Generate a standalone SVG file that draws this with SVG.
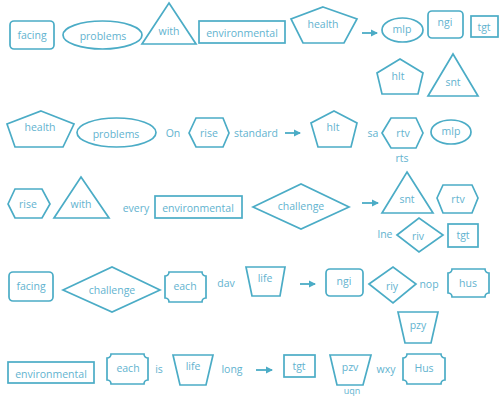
<svg xmlns="http://www.w3.org/2000/svg" width="500" height="396" viewBox="0 0 500 396">
<defs>
<style>
.s{fill:#fff;stroke:#4bacc6;stroke-width:1.7;stroke-linejoin:miter}
.t{font-family:"Open Sans","Liberation Sans",sans-serif;font-size:10.5px;fill:#62b3cf;text-anchor:middle;dominant-baseline:central}
.c{stroke:#4bacc6;stroke-width:1.8;fill:none}
</style>
<marker id="ah" viewBox="0 0 6 6" refX="5" refY="3" markerWidth="4" markerHeight="4" orient="auto"><path d="M0,0L6,3L0,6z" fill="#4bacc6"/></marker>
</defs>
<rect width="500" height="396" fill="#fff"/>
<g id="connectors">
<line class="c" x1="362" y1="33" x2="377" y2="33" marker-end="url(#ah)"/>
<line class="c" x1="285" y1="133" x2="300" y2="133" marker-end="url(#ah)"/>
<line class="c" x1="362" y1="203" x2="378" y2="203" marker-end="url(#ah)"/>
<line class="c" x1="300" y1="284" x2="315" y2="284" marker-end="url(#ah)"/>
<line class="c" x1="256" y1="370" x2="272" y2="370" marker-end="url(#ah)"/>
</g>
<!-- Row 1 -->
<g id="n-facing1"><rect class="s" x="10" y="21" width="44" height="28" rx="4"/><text class="t" x="32" y="35">facing</text></g>
<g id="n-problems1"><ellipse class="s" cx="102.5" cy="35" rx="39.5" ry="14"/><text class="t" x="103" y="36">problems</text></g>
<g id="n-with1"><polygon class="s" points="169,3 196,44 142,44"/><text class="t" x="169" y="31">with</text></g>
<g id="n-env1"><rect class="s" x="199" y="21" width="86" height="22"/><text class="t" x="242" y="33">environmental</text></g>
<g id="n-health1"><polygon class="s" points="323,7 357,19 344,43 303,43 291,19"/><text class="t" x="323" y="24">health</text></g>
<g id="n-mlp1"><ellipse class="s" cx="402.5" cy="30" rx="20.5" ry="12"/><text class="t" x="402" y="29">mlp</text></g>
<g id="n-ngi1"><rect class="s" x="428" y="11" width="35" height="27" rx="4"/><text class="t" x="445" y="22">ngi</text></g>
<g id="n-tgt1"><rect class="s" x="471" y="16" width="27" height="21"/><text class="t" x="484" y="27">tgt</text></g>
<g id="n-hlt1"><polygon class="s" points="400,59 423,73 418,94 382,94 377,73"/><text class="t" x="398" y="76">hlt</text></g>
<g id="n-snt1"><polygon class="s" points="453,54 478,96 428,96"/><text class="t" x="453" y="82">snt</text></g>
<!-- Row 2 -->
<g id="n-health2"><polygon class="s" points="41,111 74,124 63,147 15,147 7,124"/><text class="t" x="40" y="127">health</text></g>
<g id="n-problems2"><ellipse class="s" cx="116.5" cy="132.5" rx="39.5" ry="14.5"/><text class="t" x="116" y="134">problems</text></g>
<text class="t" x="173" y="133">On</text>
<g id="n-rise2"><polygon class="s" points="189,133 196,118 223,118 229,133 223,147 196,147"/><text class="t" x="209" y="133">rise</text></g>
<text class="t" x="256" y="133">standard</text>
<g id="n-hlt2"><polygon class="s" points="334,111 357,123 351,147 318,147 311,123"/><text class="t" x="333" y="127">hlt</text></g>
<text class="t" x="373" y="133">sa</text>
<g id="n-rtv2"><polygon class="s" points="382,133 391,118 416,118 423,133 416,148 391,148"/><text class="t" x="403" y="133">rtv</text></g>
<text class="t" x="402" y="158">rts</text>
<g id="n-mlp2"><ellipse class="s" cx="451" cy="132" rx="20" ry="12"/><text class="t" x="451" y="131">mlp</text></g>
<!-- Row 3 -->
<g id="n-rise3"><polygon class="s" points="8,204 15,189 42,189 50,204 42,218 15,218"/><text class="t" x="28" y="204">rise</text></g>
<g id="n-with3"><polygon class="s" points="81,177 109,218 54,218"/><text class="t" x="81" y="204">with</text></g>
<text class="t" x="136" y="208">every</text>
<g id="n-env3"><rect class="s" x="155" y="196" width="87" height="22"/><text class="t" x="198" y="208">environmental</text></g>
<g id="n-challenge3"><polygon class="s" points="253,207 301,184 349,207 301,229"/><text class="t" x="301" y="206">challenge</text></g>
<g id="n-snt3"><polygon class="s" points="407,172 433,213 382,213"/><text class="t" x="407" y="199">snt</text></g>
<g id="n-rtv3"><polygon class="s" points="437,198 443,185 472,185 478,198 472,213 443,213"/><text class="t" x="458" y="199">rtv</text></g>
<text class="t" x="385" y="234">lne</text>
<g id="n-riv3"><polygon class="s" points="397,235 419,218 443,235 419,252"/><text class="t" x="418" y="236">riv</text></g>
<g id="n-tgt3"><rect class="s" x="448" y="224" width="30" height="23"/><text class="t" x="463" y="235">tgt</text></g>
<!-- Row 4 -->
<g id="n-facing4"><rect class="s" x="9" y="272" width="44" height="29" rx="4"/><text class="t" x="31" y="286">facing</text></g>
<g id="n-challenge4"><polygon class="s" points="63,290 112,267 160,290 112,312"/><text class="t" x="112" y="290">challenge</text></g>
<g id="n-each4"><path class="s" d="M169,272H202A4,4 0 0 0 206,276V298A4,4 0 0 0 202,302H169A4,4 0 0 0 165,298V276A4,4 0 0 0 169,272Z"/><text class="t" x="185" y="286">each</text></g>
<text class="t" x="226" y="283">dav</text>
<g id="n-life4"><polygon class="s" points="246,267 285,267 280,296 252,296"/><text class="t" x="265" y="278">life</text></g>
<g id="n-ngi4"><rect class="s" x="326" y="269" width="37" height="27" rx="4"/><text class="t" x="344" y="281">ngi</text></g>
<g id="n-riy4"><polygon class="s" points="369,284 393,267 416,284 393,303"/><text class="t" x="392" y="286">riy</text></g>
<text class="t" x="429" y="284">nop</text>
<g id="n-hus4"><path class="s" d="M452,269H485A4,4 0 0 0 489,273V293A4,4 0 0 0 485,297H452A4,4 0 0 0 448,293V273A4,4 0 0 0 452,269Z"/><text class="t" x="468" y="283">hus</text></g>
<g id="n-pzy4"><polygon class="s" points="398,312 438,312 431,343 405,343"/><text class="t" x="418" y="325">pzy</text></g>
<!-- Row 5 -->
<g id="n-env5"><rect class="s" x="8" y="362" width="86" height="21"/><text class="t" x="51" y="374">environmental</text></g>
<g id="n-each5"><path class="s" d="M111,354H144A4,4 0 0 0 148,358V380A4,4 0 0 0 144,384H111A4,4 0 0 0 107,380V358A4,4 0 0 0 111,354Z"/><text class="t" x="128" y="368">each</text></g>
<text class="t" x="159" y="369">is</text>
<g id="n-life5"><polygon class="s" points="173,355 213,355 206,385 180,385"/><text class="t" x="193" y="366">life</text></g>
<text class="t" x="232" y="369">long</text>
<g id="n-tgt5"><rect class="s" x="284" y="355" width="31" height="22"/><text class="t" x="299" y="366">tgt</text></g>
<g id="n-pzv5"><polygon class="s" points="330,355 371,355 363,385 337,385"/><text class="t" x="350" y="367">pzv</text></g>
<text class="t" x="352" y="390.5" style="font-size:9px">uqn</text>
<text class="t" x="386" y="369">wxy</text>
<g id="n-Hus5"><path class="s" d="M407,354H441A4,4 0 0 0 445,358V380A4,4 0 0 0 441,384H407A4,4 0 0 0 403,380V358A4,4 0 0 0 407,354Z"/><text class="t" x="424" y="368">Hus</text></g>
</svg>
